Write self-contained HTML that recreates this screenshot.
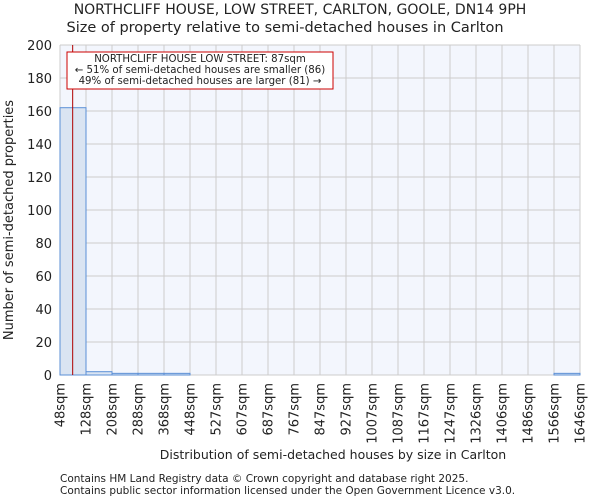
<!DOCTYPE html>
<html><head><meta charset="utf-8"><style>
body{margin:0;background:#fff;font-family:"DejaVu Sans","Liberation Sans",sans-serif;}
svg text{font-family:"DejaVu Sans","Liberation Sans",sans-serif;fill:#222;}
</style></head><body>
<svg id="chart" width="600" height="500" xmlns="http://www.w3.org/2000/svg">
<text x="300" y="14" text-anchor="middle" font-size="14">NORTHCLIFF HOUSE, LOW STREET, CARLTON, GOOLE, DN14 9PH</text>
<text x="285" y="32" text-anchor="middle" font-size="14.5">Size of property relative to semi-detached houses in Carlton</text>
<rect x="60" y="45" width="520" height="330" fill="#f3f6fd"/>
<g id="grid"></g>
<g id="bars"></g>
<g id="axes"></g>
<text x="333" y="459" text-anchor="middle" font-size="12.5">Distribution of semi-detached houses by size in Carlton</text>
<text transform="translate(13,220) rotate(-90)" text-anchor="middle" font-size="13">Number of semi-detached properties</text>
<g>
<rect x="67" y="52" width="266" height="37" fill="#fff" stroke="#c00" stroke-width="1"/>
<text x="200" y="62" text-anchor="middle" font-size="10.2">NORTHCLIFF HOUSE LOW STREET: 87sqm</text>
<text x="200" y="73" text-anchor="middle" font-size="10.2">← 51% of semi-detached houses are smaller (86)</text>
<text x="200" y="84" text-anchor="middle" font-size="10.2">49% of semi-detached houses are larger (81) →</text>
</g>
<text x="60" y="482" font-size="10.5">Contains HM Land Registry data © Crown copyright and database right 2025.</text>
<text x="60" y="494" font-size="10.5">Contains public sector information licensed under the Open Government Licence v3.0.</text>
</svg>
<script>
const binLabels=["48sqm","128sqm","208sqm","288sqm","368sqm","448sqm","527sqm","607sqm","687sqm","767sqm","847sqm","927sqm","1007sqm","1087sqm","1167sqm","1247sqm","1326sqm","1406sqm","1486sqm","1566sqm","1646sqm"];
const binEdges=[48,128,208,288,368,448,527,607,687,767,847,927,1007,1087,1167,1247,1326,1406,1486,1566,1646];
const counts=[162,2,1,1,1,0,0,0,0,0,0,0,0,0,0,0,0,0,0,1];
const yTicks=[0,20,40,60,80,100,120,140,160,180,200];
const subjectSize=87;
const NS="http://www.w3.org/2000/svg";
const X0=60,W=520,Y0=375,H=330,nb=counts.length,bw=W/nb;
const xIdx=i=>X0+i*bw;
const xVal=v=>{for(let i=0;i<binEdges.length-1;i++){if(v<=binEdges[i+1])return xIdx(i)+(v-binEdges[i])/(binEdges[i+1]-binEdges[i])*bw;}return X0+W;};
const y=v=>Y0-v/200*H;
function mk(tag,attrs,parent){const e=document.createElementNS(NS,tag);for(const k in attrs)e.setAttribute(k,attrs[k]);parent.appendChild(e);return e;}
const grid=document.getElementById('grid'),bars=document.getElementById('bars'),axes=document.getElementById('axes');
yTicks.forEach(t=>{
 const l=mk('line',{x1:X0,x2:X0+W,y1:y(t),y2:y(t),stroke:'#cccccc','stroke-width':1},grid);
 
 
 const tx=mk('text',{x:X0-8,y:y(t)+5,'text-anchor':'end','font-size':13},axes);
 tx.textContent=t;
 
 
});
binLabels.forEach((lb,i)=>{
 const l=mk('line',{x1:xIdx(i),x2:xIdx(i),y1:Y0-H,y2:Y0,stroke:'#cccccc','stroke-width':1},grid);
 
 
 const tx=mk('text',{transform:`translate(${xIdx(i)+4.5},${Y0+8}) rotate(-90)`,'text-anchor':'end','font-size':13},axes);
 tx.textContent=lb;
 
 
});
counts.forEach((c,i)=>{
 if(c<=0)return;
 const r=mk('rect',{x:xIdx(i),y:y(c),width:bw,height:Y0-y(c),fill:'#dae4f2',stroke:'#5b8fd6','stroke-width':1},bars);
 
 
});
const ml=mk('line',{x1:xVal(subjectSize),x2:xVal(subjectSize),y1:Y0-H,y2:Y0,stroke:'#b00000','stroke-width':1},bars);


</script>
</body></html>
